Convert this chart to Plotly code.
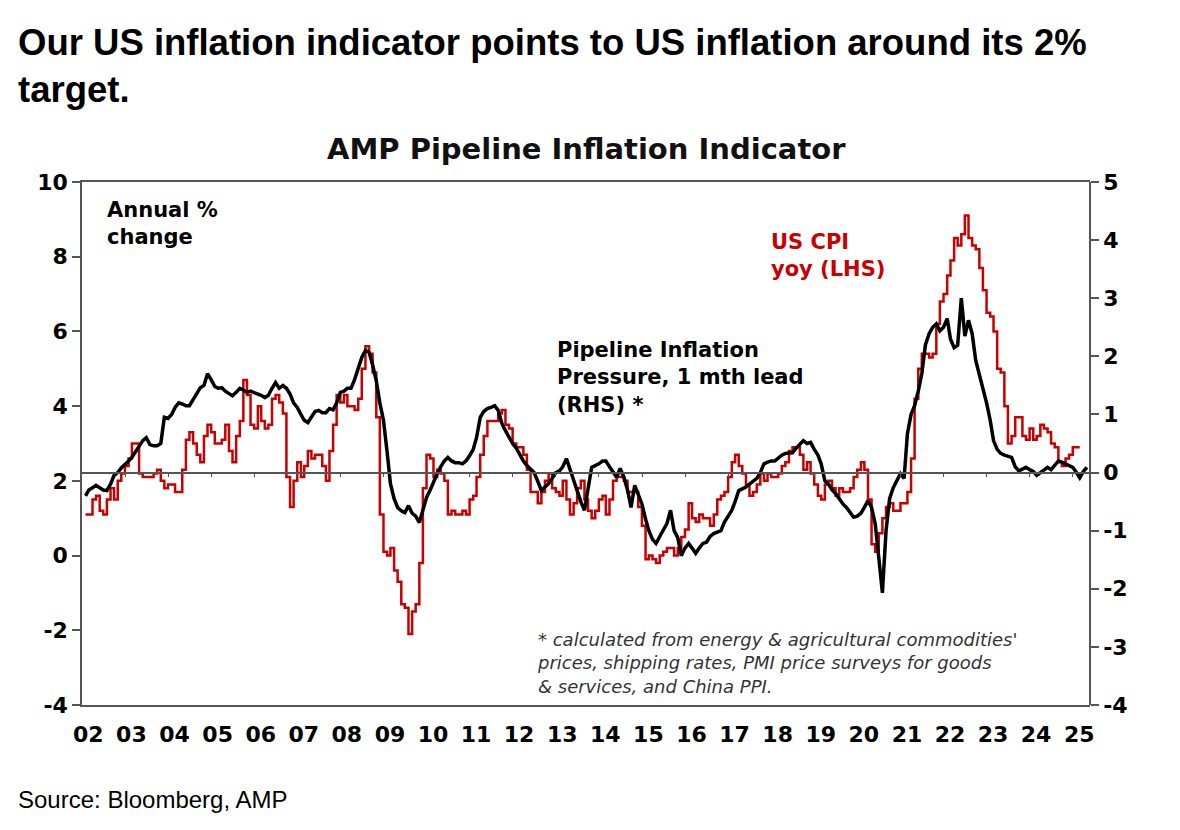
import pandas as pd
import plotly.graph_objects as go

# US CPI, annual % change (LHS), monthly Jan 2002 - Feb 2025
cpi_yoy = [
    1.1, 1.1, 1.5, 1.6, 1.2, 1.1, 1.5, 1.8, 1.5, 2.0, 2.2, 2.4,
    2.6, 3.0, 3.0, 2.2, 2.1, 2.1, 2.1, 2.2, 2.3, 2.0, 1.8, 1.9,
    1.9, 1.7, 1.7, 2.3, 3.1, 3.3, 3.0, 2.7, 2.5, 3.2, 3.5, 3.3,
    3.0, 3.0, 3.1, 3.5, 2.8, 2.5, 3.2, 3.6, 4.7, 4.3, 3.5, 3.4,
    4.0, 3.6, 3.4, 3.5, 4.2, 4.3, 4.1, 3.8, 2.1, 1.3, 2.0, 2.5,
    2.1, 2.4, 2.8, 2.6, 2.7, 2.7, 2.4, 2.0, 2.8, 3.5, 4.3, 4.1,
    4.3, 4.0, 4.0, 3.9, 4.2, 5.0, 5.6, 5.4, 4.9, 3.7, 1.1, 0.1,
    0.0, 0.2, -0.4, -0.7, -1.3, -1.4, -2.1, -1.5, -1.3, -0.2, 1.8, 2.7,
    2.6, 2.1, 2.3, 2.2, 2.0, 1.1, 1.2, 1.1, 1.1, 1.2, 1.1, 1.5,
    1.6, 2.1, 2.7, 3.2, 3.6, 3.6, 3.6, 3.8, 3.9, 3.5, 3.4, 3.0,
    2.9, 2.9, 2.7, 2.3, 1.7, 1.7, 1.4, 1.7, 2.0, 2.2, 1.8, 1.7,
    1.6, 2.0, 1.5, 1.1, 1.4, 1.8, 2.0, 1.5, 1.2, 1.0, 1.2, 1.5,
    1.6, 1.1, 1.5, 2.0, 2.1, 2.1, 2.0, 1.7, 1.7, 1.7, 1.3, 0.8,
    -0.1, 0.0, -0.1, -0.2, 0.0, 0.1, 0.2, 0.2, 0.0, 0.2, 0.5, 0.7,
    1.4, 1.0, 0.9, 1.1, 1.0, 1.0, 0.8, 1.1, 1.5, 1.6, 1.7, 2.1,
    2.5, 2.7, 2.4, 2.2, 1.9, 1.6, 1.7, 1.9, 2.2, 2.0, 2.2, 2.1,
    2.1, 2.2, 2.4, 2.5, 2.8, 2.9, 2.9, 2.7, 2.3, 2.5, 2.2, 1.9,
    1.6, 1.5, 1.9, 2.0, 1.8, 1.6, 1.8, 1.7, 1.7, 1.8, 2.1, 2.3,
    2.5, 2.3, 1.5, 0.3, 0.1, 0.6, 1.0, 1.3, 1.4, 1.2, 1.2, 1.4,
    1.4, 1.7, 2.6, 4.2, 5.0, 5.4, 5.4, 5.3, 5.4, 6.2, 6.8, 7.0,
    7.5, 7.9, 8.5, 8.3, 8.6, 9.1, 8.5, 8.3, 8.2, 7.7, 7.1, 6.5,
    6.4, 6.0, 5.0, 4.9, 4.0, 3.0, 3.2, 3.7, 3.7, 3.2, 3.1, 3.4,
    3.1, 3.2, 3.5, 3.4, 3.3, 3.0, 2.9, 2.5, 2.4, 2.6, 2.7, 2.9,
    2.9, 2.9,
]

# Pipeline inflation pressure, 1 mth lead (RHS), monthly Jan 2002 - Apr 2025
pipeline = [
    -0.4, -0.3, -0.26, -0.22, -0.26, -0.3, -0.31, -0.2, -0.05, 0.0, 0.08, 0.15,
    0.2, 0.26, 0.35, 0.46, 0.55, 0.6, 0.48, 0.46, 0.46, 0.5, 0.95, 0.93,
    1.0, 1.12, 1.2, 1.18, 1.15, 1.15, 1.25, 1.36, 1.46, 1.5, 1.7, 1.6,
    1.48, 1.45, 1.46, 1.4, 1.36, 1.32, 1.38, 1.45, 1.42, 1.38, 1.4, 1.38,
    1.36, 1.33, 1.29, 1.33, 1.45, 1.55, 1.45, 1.5, 1.45, 1.35, 1.2, 1.12,
    1.0, 0.9, 0.86, 0.95, 1.05, 1.07, 1.03, 1.03, 1.1, 1.08, 1.2, 1.38,
    1.4, 1.45, 1.45, 1.6, 1.8, 1.98, 2.1, 2.07, 1.85, 1.58, 1.2, 0.9,
    0.35, -0.19, -0.45, -0.6, -0.66, -0.69, -0.57, -0.7, -0.75, -0.86, -0.65, -0.43,
    -0.3, -0.15, -0.02, 0.1, 0.2, 0.26, 0.2, 0.17, 0.17, 0.15, 0.2, 0.29,
    0.4, 0.6, 0.95, 1.05, 1.1, 1.12, 1.15, 1.07, 0.85, 0.72, 0.6, 0.5,
    0.42, 0.3, 0.2, 0.12, 0.05, 0.0, -0.15, -0.31, -0.25, -0.19, -0.1, 0.0,
    0.03, 0.1, 0.24, 0.05, -0.1, -0.31, -0.5, -0.65, -0.3, 0.09, 0.12, 0.15,
    0.2, 0.2, 0.1, 0.0, -0.08, 0.07, -0.08, -0.3, -0.6, -0.22, -0.4, -0.54,
    -0.8, -1.0, -1.15, -1.22, -1.1, -1.0, -0.88, -0.65, -1.0, -1.12, -1.43, -1.3,
    -1.22, -1.3, -1.39, -1.3, -1.22, -1.2, -1.1, -1.05, -1.02, -1.0, -0.85, -0.75,
    -0.65, -0.5, -0.31, -0.28, -0.25, -0.2, -0.14, -0.1, 0.0, 0.15, 0.18, 0.2,
    0.2, 0.25, 0.3, 0.33, 0.33, 0.34, 0.42, 0.48, 0.55, 0.5, 0.52, 0.4,
    0.3, 0.15, -0.14, -0.2, -0.3, -0.36, -0.45, -0.54, -0.6, -0.7, -0.77, -0.75,
    -0.7, -0.6, -0.48, -0.6, -0.88, -1.46, -2.07, -1.0, -0.45, -0.26, -0.14, -0.02,
    -0.1, 0.67, 1.0, 1.15, 1.4, 1.7, 2.2, 2.39, 2.5, 2.56, 2.44, 2.5,
    2.65, 2.3, 2.15, 2.19, 3.0, 2.35, 2.62, 2.39, 1.93, 1.7, 1.46, 1.2,
    0.9, 0.55, 0.4, 0.33, 0.3, 0.28, 0.26, 0.1, 0.03, 0.06, 0.09, 0.05,
    0.02, -0.05, 0.0, 0.05, 0.09, 0.05, 0.12, 0.2, 0.18, 0.15, 0.12, 0.09,
    0.0, -0.09, 0.02, 0.09,
]

years = list(range(2002, 2026))
year_labels = [f"{y % 100:02d}" for y in years]
lhs_ticks = [-4, -2, 0, 2, 4, 6, 8, 10]
rhs_ticks = [-4, -3, -2, -1, 0, 1, 2, 3, 4, 5]

cpi_dates = pd.date_range("2002-01-31", periods=len(cpi_yoy), freq="ME")
pipe_dates = pd.date_range("2002-01-31", periods=len(pipeline), freq="ME")

AX = "#555555"
chart_font = "DejaVu Sans"
tick_font = dict(family=chart_font, size=22, color="black", weight="bold")

fig = go.Figure()
fig.add_trace(go.Scatter(
    x=cpi_dates, y=cpi_yoy, mode="lines", line=dict(color="#C80000", width=2.5, shape="hv"),
    xaxis="x", yaxis="y", hoverinfo="skip", showlegend=False,
))
fig.add_trace(go.Scatter(
    x=pipe_dates, y=pipeline, mode="lines", line=dict(color="black", width=3.5),
    xaxis="x2", yaxis="y2", hoverinfo="skip", showlegend=False,
))

# page has an 8px body margin, so the figure is drawn 8px smaller
fig.update_layout(
    width=1172, height=822,
    margin=dict(l=74, r=90, t=174, b=125),
    paper_bgcolor="white", plot_bgcolor="white",
    showlegend=False,
    xaxis=dict(
        type="date", range=["2002-01-01", "2025-05-26"],
        tickvals=[f"{y}-02-24" for y in years], ticktext=year_labels,
        ticks="", ticklabelstandoff=9, tickfont=tick_font,
        showline=True, linecolor=AX, linewidth=1.5, mirror=True,
        showgrid=False, zeroline=False,
    ),
    xaxis2=dict(
        type="date", matches="x", overlaying="x", anchor="free", position=4 / 9,
        side="bottom", tickvals=[f"{y}-01-01" for y in years[1:]],
        ticks="outside", ticklen=4, tickcolor=AX, tickwidth=1.2,
        showticklabels=False, showline=True, linecolor=AX, linewidth=1.5,
        showgrid=False, zeroline=False,
    ),
    yaxis=dict(
        range=[-4, 10], tickvals=lhs_ticks, ticktext=[str(v) for v in lhs_ticks],
        ticks="outside", ticklen=8, tickcolor=AX, tickwidth=1.5, tickfont=tick_font,
        showline=True, linecolor=AX, linewidth=1.5,
        showgrid=False, zeroline=False,
    ),
    yaxis2=dict(
        range=[-4, 5], tickvals=rhs_ticks, ticktext=[str(v) for v in rhs_ticks],
        overlaying="y", side="right", anchor="free", position=1,
        ticks="outside", ticklen=8, tickcolor=AX, tickwidth=1.5, tickfont=tick_font,
        showline=True, linecolor=AX, linewidth=1.5,
        showgrid=False, zeroline=False,
    ),
)

# screenshot pixel -> paper helpers for text placement
def px(x):
    return (x - 82) / 1008

def py(y):
    return (705 - y) / 523

notes = [
    dict(text="<b>Our US inflation indicator points to US inflation around its 2%<br>target.</b>",
         x=px(16), y=py(20), font=dict(family="Liberation Sans", size=36.5, color="black")),
    dict(text="<b>AMP Pipeline Inflation Indicator</b>", x=0.5, y=py(130), xanchor="center",
         font=dict(family=chart_font, size=29, color="#111111")),
    dict(text="<b>Annual %<br>change</b>", x=px(105), y=py(196),
         font=dict(family=chart_font, size=21, color="black")),
    dict(text="<b>US CPI<br>yoy (LHS)</b>", x=px(769), y=py(228),
         font=dict(family=chart_font, size=21, color="#C80000")),
    dict(text="<b>Pipeline Inflation<br>Pressure, 1 mth lead<br>(RHS) *</b>", x=px(555), y=py(336),
         font=dict(family=chart_font, size=21, color="black")),
    dict(text="<i>* calculated from energy & agricultural commodities'<br>"
              "prices, shipping rates, PMI price surveys for goods<br>"
              "& services, and China PPI.</i>", x=px(535), y=py(627),
         font=dict(family=chart_font, size=18, color="#333333")),
    dict(text="Source: Bloomberg, AMP", x=px(16), y=py(784),
         font=dict(family="Liberation Sans", size=24, color="black")),
]
for n in notes:
    fig.add_annotation(
        xref="paper", yref="paper", x=n["x"], y=n["y"], text=n["text"],
        xanchor=n.get("xanchor", "left"), yanchor="top", align="left",
        showarrow=False, font=n["font"],
    )

fig.write_html("out.html")
